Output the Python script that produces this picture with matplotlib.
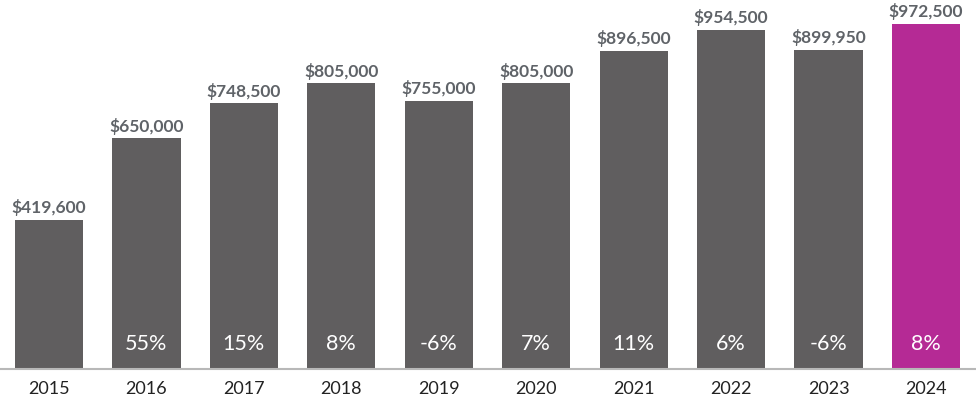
import matplotlib
matplotlib.use("Agg")
import matplotlib.pyplot as plt

years = ["2015", "2016", "2017", "2018", "2019", "2020", "2021", "2022", "2023", "2024"]
prices = [419600, 650000, 748500, 805000, 755000, 805000, 896500, 954500, 899950, 972500]
changes = ["", "55%", "15%", "8%", "-6%", "7%", "11%", "6%", "-6%", "8%"]

plt.rcParams['font.family'] = ['Lato', 'DejaVu Sans']

fig = plt.figure(figsize=(9.76, 4.05), dpi=100)
ax = fig.add_axes([0, (405 - 369) / 405, 1, 369 / 405])

colors = ["#605e5f"] * 9 + ["#b52a95"]
x = list(range(len(years)))
ax.bar(x, prices, width=0.70, color=colors, zorder=2)

ax.set_xlim(-0.503, 9.513)
ax.set_ylim(0, 972500 * 369 / 345)

for xi, p, c in zip(x, prices, changes):
    ax.text(xi, p + 11000, "${:,}".format(p), ha="center", va="bottom",
            fontsize=12.5, fontweight="bold", color="#5f6368")
    if c:
        ax.annotate(c, (xi, 0), xytext=(0, 25), textcoords="offset pixels",
                    ha="center", va="center", fontsize=15.5, color="white")

ax.set_xticks(x)
ax.set_xticklabels(years, fontsize=13, color="#222222")
ax.tick_params(axis="x", length=0, pad=9)
ax.set_yticks([])
for s in ["top", "left", "right"]:
    ax.spines[s].set_visible(False)
ax.spines["bottom"].set_color("#b8b8b8")
ax.spines["bottom"].set_linewidth(1.5)

fig.savefig("out.png", dpi=100)
